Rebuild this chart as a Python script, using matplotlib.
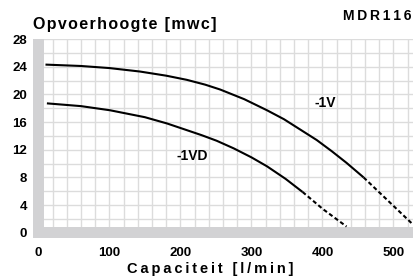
import numpy as np
import matplotlib
matplotlib.use("Agg")
import matplotlib.pyplot as plt

plt.rcParams['font.family'] = ['Liberation Sans', 'DejaVu Sans']
plt.rcParams['font.weight'] = 'bold'

# curve -1V (solid part, then dashed part)
v_q = [10, 60, 100, 143, 180, 209, 235, 256, 290, 322, 346, 369, 392, 413, 434, 458]
v_h = [24.3, 24.1, 23.8, 23.3, 22.7, 22.1, 21.4, 20.7, 19.3, 17.7, 16.4, 14.9, 13.4, 11.8, 10.1, 8.0]
v_dash_q = [458, 528]
v_dash_h = [8.0, 1.15]

# curve -1VD
vd_q = [12, 60, 101, 150, 181, 207, 230, 251, 275, 300, 322, 348, 372]
vd_h = [18.7, 18.3, 17.7, 16.7, 15.8, 14.9, 14.1, 13.3, 12.2, 10.9, 9.6, 7.8, 5.9]
vd_dash_q = [372, 401, 434]
vd_dash_h = [5.9, 3.4, 0.9]

xticks = [0, 100, 200, 300, 400, 500]
yticks = [0, 4, 8, 12, 16, 20, 24, 28]

def spaced(s, sp='\u200a'):
    # crude letter spacing
    return sp.join(s)

fig = plt.figure(figsize=(4.14, 2.78), dpi=100)
ax = fig.add_axes([32.7/414, 1-238.3/278, 1-32.7/414, (238.3-39)/278])

ax.set_xlim(-8, 529)
ax.set_ylim(-0.8, 28)
ax.set_xticks(xticks)
ax.set_yticks(yticks)
ax.set_xticks(np.arange(20, 529, 20), minor=True)
ax.set_yticks(np.arange(2, 29, 2), minor=True)
ax.grid(which='both', color='#dcdcdc', linewidth=1.0, zorder=0)
ax.set_axisbelow(True)
for s in ax.spines.values():
    s.set_visible(False)
ax.tick_params(which='both', length=0)
ax.tick_params(axis='x', pad=6, labelsize=9.5)
ax.tick_params(axis='y', pad=4, labelsize=9.5)

gray = '#d2d2d4'
ax.axvspan(-8, 8, color=gray, zorder=1, lw=0)
ax.axhspan(-0.8, 0.85, color=gray, zorder=1, lw=0)

ax.plot(v_q, v_h, color='black', lw=1.5, zorder=3, solid_capstyle='butt')
ax.plot(v_dash_q, v_dash_h, color='black', lw=1.5, ls=(0, (2, 1.3)), zorder=3)
ax.plot(vd_q, vd_h, color='black', lw=1.5, zorder=3, solid_capstyle='butt')
ax.plot(vd_dash_q, vd_dash_h, color='black', lw=1.5, ls=(0, (2, 1.3)), zorder=3)

ax.text(404, 18.8, '-1V', fontsize=10, fontweight='bold', ha='center', va='center')
ax.text(216, 11.1, '-1VD', fontsize=10, fontweight='bold', ha='center', va='center')

fig.text(33/414, 1-25/278, spaced('Opvoerhoogte [mwc]'), fontsize=11.5,
         fontweight='bold', ha='left', va='center')
fig.text(343/414, 1-16/278, spaced('MDR116', '\u2009'), fontsize=10,
         fontweight='bold', ha='left', va='center')
fig.text(210/414, 1-268.5/278, spaced('Capaciteit [l/min]', '\u2009'), fontsize=10.5,
         fontweight='bold', ha='center', va='center')

fig.savefig('out.png', dpi=100)
